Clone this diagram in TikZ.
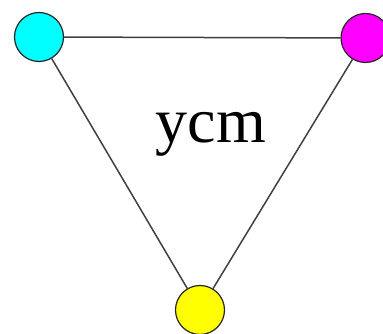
\documentclass[tikz,border=0pt]{standalone}
\usepackage{fontspec}
\setmainfont{Liberation Serif}
\definecolor{rgbcyan}{RGB}{0,255,255}
\definecolor{rgbmagenta}{RGB}{255,0,255}
\definecolor{rgbyellow}{RGB}{255,255,0}
\begin{document}
\begin{tikzpicture}[x=1pt,y=1pt,
  vertex/.style={circle,draw=black!85,line width=1.2pt,minimum size=49pt,inner sep=0pt},
  edge/.style={draw=black!75,line width=1.5pt}]
\useasboundingbox (0,0) rectangle (383,334);
\node[vertex,fill=rgbcyan] (c) at (39,297) {};
\node[vertex,fill=rgbmagenta] (m) at (365.5,296) {};
\node[vertex,fill=rgbyellow] (y) at (200,24) {};
\node[font=\fontsize{64}{64}\selectfont,anchor=base] (lbl) at (211,191) {ycm};
\draw[edge] (c) -- (m);
\draw[edge] (c) -- (y);
\draw[edge] (m) -- (y);
\end{tikzpicture}
\end{document}
